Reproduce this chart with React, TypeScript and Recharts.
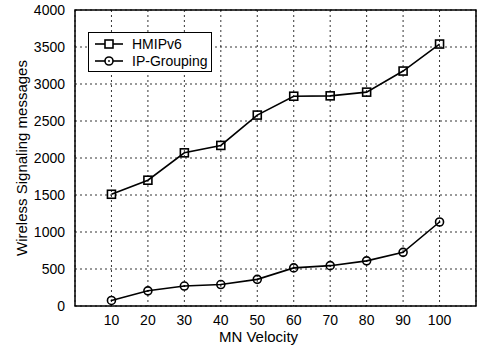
import { LineChart, Line, XAxis, YAxis, CartesianGrid, ReferenceArea } from 'recharts'

const velocities = [10, 20, 30, 40, 50, 60, 70, 80, 90, 100]
const hmipv6 = [1510, 1700, 2070, 2170, 2580, 2835, 2840, 2890, 3175, 3540]
const ipGrouping = [75, 205, 270, 290, 360, 515, 545, 610, 725, 1135]
const xTicks = [10, 20, 30, 40, 50, 60, 70, 80, 90, 100]
const yTicks = [0, 500, 1000, 1500, 2000, 2500, 3000, 3500, 4000]

const data = velocities.map((v, i) => ({ v, hmipv6: hmipv6[i], ipGrouping: ipGrouping[i] }))

const FONT = 'Liberation Sans, Arial, sans-serif'

const SquareDot = (props: any) => {
  const { cx, cy } = props
  if (cx == null || cy == null) return null
  return <rect x={cx - 4} y={cy - 4} width={8} height={8} fill="none" stroke="#000" strokeWidth={1.6} />
}

const CircleDot = (props: any) => {
  const { cx, cy } = props
  if (cx == null || cy == null) return null
  return (
    <g>
      <circle cx={cx} cy={cy} r={4} fill="none" stroke="#000" strokeWidth={1.6} />
      <circle cx={cx} cy={cy} r={0.9} fill="#000" />
    </g>
  )
}

// legend box drawn like the matlab one, sits over the plot
const LegendBox = () => (
  <div
    style={{
      position: 'absolute',
      left: 88,
      top: 32,
      width: 122,
      height: 38,
      border: '1px solid #000',
      background: '#fff',
      fontFamily: FONT,
      fontSize: 14,
      color: '#000',
    }}
  >
    {[
      { name: 'HMIPv6', shape: 'square' },
      { name: 'IP-Grouping', shape: 'circle' },
    ].map((e, i) => (
      <div key={e.name} style={{ display: 'flex', alignItems: 'center', height: 17, marginTop: i === 0 ? 2 : 0 }}>
        <svg width={34} height={14} style={{ marginLeft: 4 }}>
          <line x1={2} y1={7} x2={30} y2={7} stroke="#000" strokeWidth={1.6} />
          {e.shape === 'square' ? (
            <rect x={12} y={3} width={8} height={8} fill="#fff" stroke="#000" strokeWidth={1.6} />
          ) : (
            <g>
              <circle cx={16} cy={7} r={4} fill="#fff" stroke="#000" strokeWidth={1.6} />
              <circle cx={16} cy={7} r={0.9} fill="#000" />
            </g>
          )}
        </svg>
        <span style={{ marginLeft: 5 }}>{e.name}</span>
      </div>
    ))}
  </div>
)

export default function App() {
  return (
    <div style={{ position: 'absolute', left: 0, top: 0, width: 477, height: 349, background: '#fff' }}>
      <LineChart width={477} height={349} data={data} margin={{ top: 10, right: 1, left: 0, bottom: 0 }}>
        <CartesianGrid stroke="#000" strokeDasharray="2 3" strokeWidth={0.8} />
        <XAxis
          dataKey="v"
          type="number"
          domain={[0, 110]}
          ticks={xTicks}
          height={43}
          axisLine={false}
          tickLine={false}
          tick={{ fill: '#000', fontSize: 14, fontFamily: FONT }}
          tickMargin={3}
          label={{ value: 'MN Velocity', position: 'insideBottom', offset: 7, dx: -17, fill: '#000', fontSize: 15, fontFamily: FONT }}
        />
        <YAxis
          type="number"
          domain={[0, 4000]}
          ticks={yTicks}
          width={75}
          axisLine={false}
          tickLine={false}
          tick={{ fill: '#000', fontSize: 14, fontFamily: FONT }}
          tickMargin={4}
          label={{
            value: 'Wireless Signaling messages',
            angle: -90,
            position: 'insideLeft',
            offset: 22,
            style: { textAnchor: 'middle' },
            fill: '#000',
            fontSize: 15,
            fontFamily: FONT,
          }}
        />
        <ReferenceArea x1={0} x2={110} y1={0} y2={4000} fill="none" stroke="#000" strokeWidth={1.5} ifOverflow="visible" />
        <Line
          dataKey="hmipv6"
          stroke="#000"
          strokeWidth={1.6}
          dot={<SquareDot />}
          activeDot={false}
          isAnimationActive={false}
        />
        <Line
          dataKey="ipGrouping"
          stroke="#000"
          strokeWidth={1.6}
          dot={<CircleDot />}
          activeDot={false}
          isAnimationActive={false}
        />
      </LineChart>
      <LegendBox />
    </div>
  )
}
